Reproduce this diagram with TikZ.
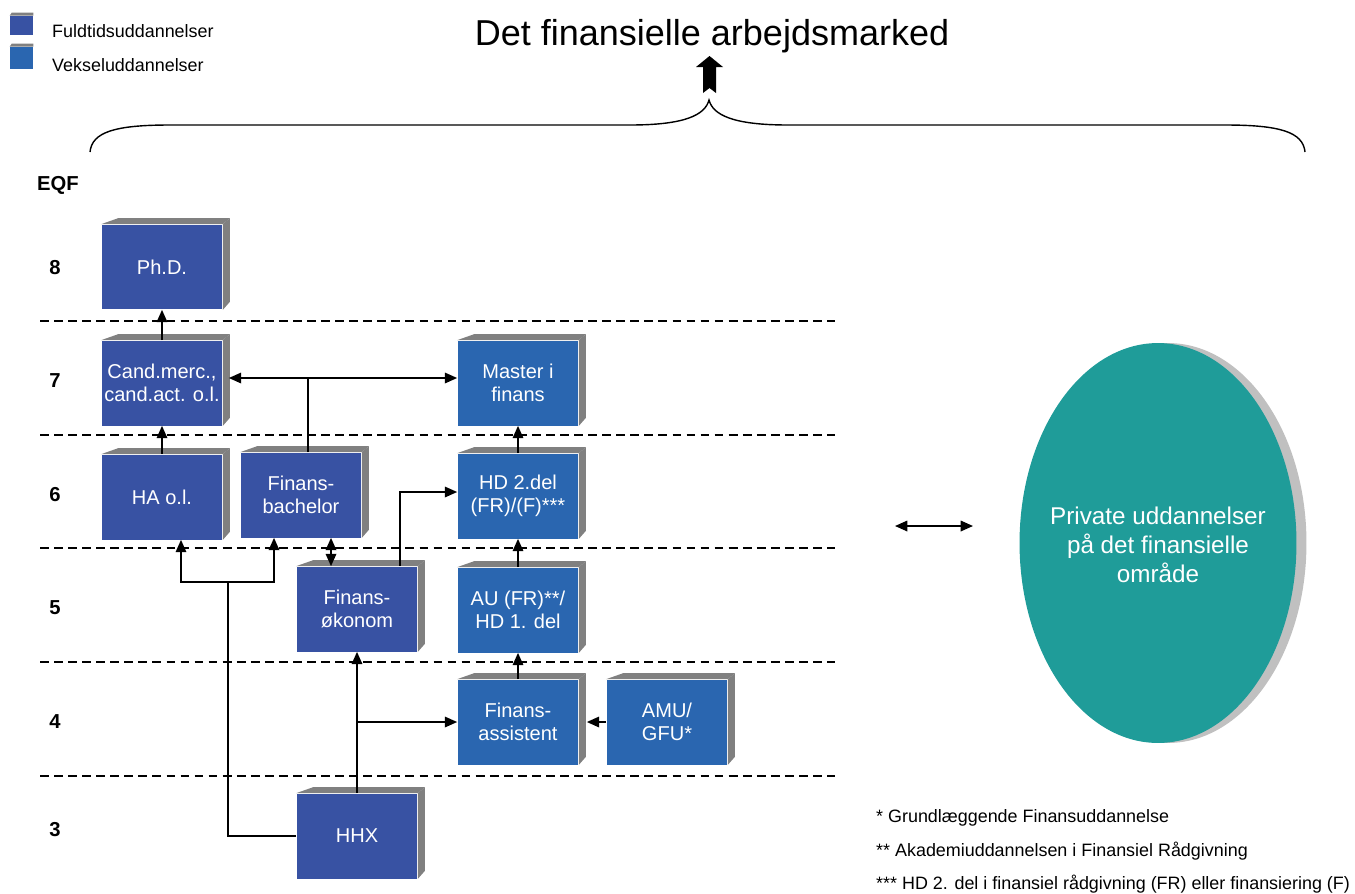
\documentclass[tikz,border=0pt]{standalone}
\usepackage{fontspec}
\setmainfont{Liberation Sans}
\usepackage{xcolor}
\usepackage{tikz}
\usetikzlibrary{calc}
\usetikzlibrary{arrows.meta}
\usetikzlibrary{shapes}
\usetikzlibrary{positioning}
\usetikzlibrary{shapes.geometric}

\definecolor{fuldblue}{HTML}{3852A3}
\definecolor{vekselblue}{HTML}{2A66B0}
\definecolor{sidegray}{HTML}{808080}
\definecolor{privteal}{HTML}{1F9C99}
\definecolor{privshade}{HTML}{C0C0C0}

\tikzset{
  uddbox/.style={rectangle, minimum width=2.42cm, minimum height=1.7cm, inner sep=1pt, align=center, text=white, font=\fontsize{11.4}{13.4}\selectfont},
  fuld/.style={uddbox, fill=fuldblue},
  veksel/.style={uddbox, fill=vekselblue},
  conn/.style={-{Triangle[length=7pt,width=6pt]}, line width=0.9pt},
  dconn/.style={{Triangle[length=7pt,width=6pt]}-{Triangle[length=7pt,width=6pt]}, line width=0.9pt},
  plain/.style={line width=0.9pt},
  niveau/.style={dash pattern=on 5pt off 3pt, line width=0.8pt},
  eqf/.style={font=\fontsize{11.5}{13}\selectfont\bfseries},
  note/.style={anchor=west, font=\fontsize{10.2}{12}\selectfont},
  privat/.style={ellipse, inner sep=0pt, minimum width=5.54cm, minimum height=8cm}
}

\begin{document}
\begin{tikzpicture}[x=0.02cm, y=-0.02cm]
\useasboundingbox (0,0) rectangle (1355,893);

% legend
\node [fuld, minimum width=0.46cm, minimum height=0.38cm] (legfuld) at (21.5,25.5) {};
\node [veksel, minimum width=0.46cm, minimum height=0.44cm] (legveks) at (21.5,58) {};
\node [note] (legfuldtxt) at (46,31) {Fuldtidsuddannelser};
\node [note] (legvekstxt) at (46,65) {Vekseluddannelser};

% title, brace and arrow
\node [anchor=base, font=\fontsize{20.5}{24}\selectfont] (titel) at (712,45) {Det finansielle arbejdsmarked};
\coordinate (brtip) at (709,100);
\draw [line width=0.8pt] (90,152) .. controls (92,132) and (115,125) .. (170,125) -- (630,125)
  .. controls (685,125) and (705,115) .. (brtip)
  .. controls (713,115) and (733,125) .. (788,125) -- (1225,125)
  .. controls (1280,125) and (1303,132) .. (1305,152);
\fill (703,93) -- (709.5,88) -- (716,93) -- (716,67) -- (723,67) -- (709.5,56) -- (696,67) -- (703,67) -- cycle;

% EQF levels
\node [eqf] (eqf) at (58,185) {EQF};
\node [eqf] (n8) at (55,268) {8};
\node [eqf] (n7) at (55,381) {7};
\node [eqf] (n6) at (55,495) {6};
\node [eqf] (n5) at (55,608) {5};
\node [eqf] (n4) at (55,722) {4};
\node [eqf] (n3) at (55,830) {3};
\foreach \y in {321,435,548,662,776}
  \draw [niveau] (40,\y) -- (835,\y);

% education boxes
\node [fuld] (phd) at (162,267) {Ph.D.};
\node [fuld] (cand) at (162,383) {Cand.merc.,\\cand.act. o.l.};
\node [veksel] (master) at (518,383) {Master i\\finans};
\node [fuld] (ha) at (162,497) {HA o.l.};
\node [fuld] (bach) at (301,495) {Finans-\\bachelor};
\node [veksel] (hd2) at (518,496) {HD 2.del\\(FR)/(F)***};
\node [fuld] (okon) at (357,609) {Finans-\\økonom};
\node [veksel] (au) at (518,610) {AU (FR)**/\\HD 1. del};
\node [veksel] (assist) at (518,722) {Finans-\\assistent};
\node [veksel] (amu) at (667,722) {AMU/\\GFU*};
\node [fuld] (hhx) at (357,836) {HHX};

\foreach \b in {phd,cand,master,ha,bach,hd2,okon,au,assist,amu,hhx}{
  \fill [sidegray] (\b.north west) -- ++(17,-6) -- ($(\b.north east)+(7,-6)$) -- (\b.north east) -- cycle;
  \fill [sidegray] (\b.north east) -- ++(7,-6) -- ($(\b.south east)+(7,-8)$) -- (\b.south east) -- cycle;
}
\foreach \b in {legfuld,legveks}
  \fill [sidegray] (\b.north west) -- ++(2,-3) -- ($(\b.north east)+(0,-3)$) -- (\b.north east) -- cycle;

% connectors
\draw [conn] (cand.north) -- (phd.south);
\draw [conn] (ha.north) -- (cand.south);
\coordinate (bt) at (308,378);
\draw [plain] (bt |- bach.north) -- (bt);
\draw [conn] (bt) -- ([xshift=0.12cm]cand.east |- bt);
\draw [conn] (bt) -- (master.west |- bt);
\draw [conn] (hd2.north) -- (master.south);
\draw [conn] (au.north) -- (hd2.south);
\draw [conn] (assist.north) -- (au.south);
\draw [conn] (amu.west) -- ([xshift=0.16cm]assist.east);
\draw [conn] ([xshift=0.86cm]okon.north) |- ([yshift=0.08cm]hd2.west);
\draw [dconn] ([xshift=-0.52cm]okon.north |- bach.south) -- ([xshift=-0.52cm]okon.north);
\coordinate (split) at (228,582);
\draw [plain] (hhx.west) -| (split);
\draw [conn] (split) -| ([xshift=0.38cm]ha.south);
\draw [conn] (split) -| ([xshift=-0.54cm]bach.south);
\draw [conn] (hhx.north) -- (okon.south);
\draw [conn] (hhx.north |- assist.west) -- (assist.west);

% private education
\node [privat, fill=privshade] (privskygge) at (1168,543) {};
\node [privat, fill=privteal] (privat) at (1158,543) {};
\node [text=white, align=center, font=\fontsize{13.8}{16.6}\selectfont] (privtxt) at ([yshift=-0.04cm]privat.center) {Private uddannelser\\på det finansielle\\område};
\coordinate (pl) at (895,526);
\coordinate (pr) at (973,526);
\draw [dconn] (pl) -- (pr);

% footnotes
\node [note] (fn1) at (870,818) {* Grundlæggende Finansuddannelse};
\node [note] (fn2) at (870,851) {** Akademiuddannelsen i Finansiel Rådgivning};
\node [note] (fn3) at (870,884) {*** HD 2. del i finansiel rådgivning (FR) eller finansiering (F)};
\end{tikzpicture}
\end{document}
